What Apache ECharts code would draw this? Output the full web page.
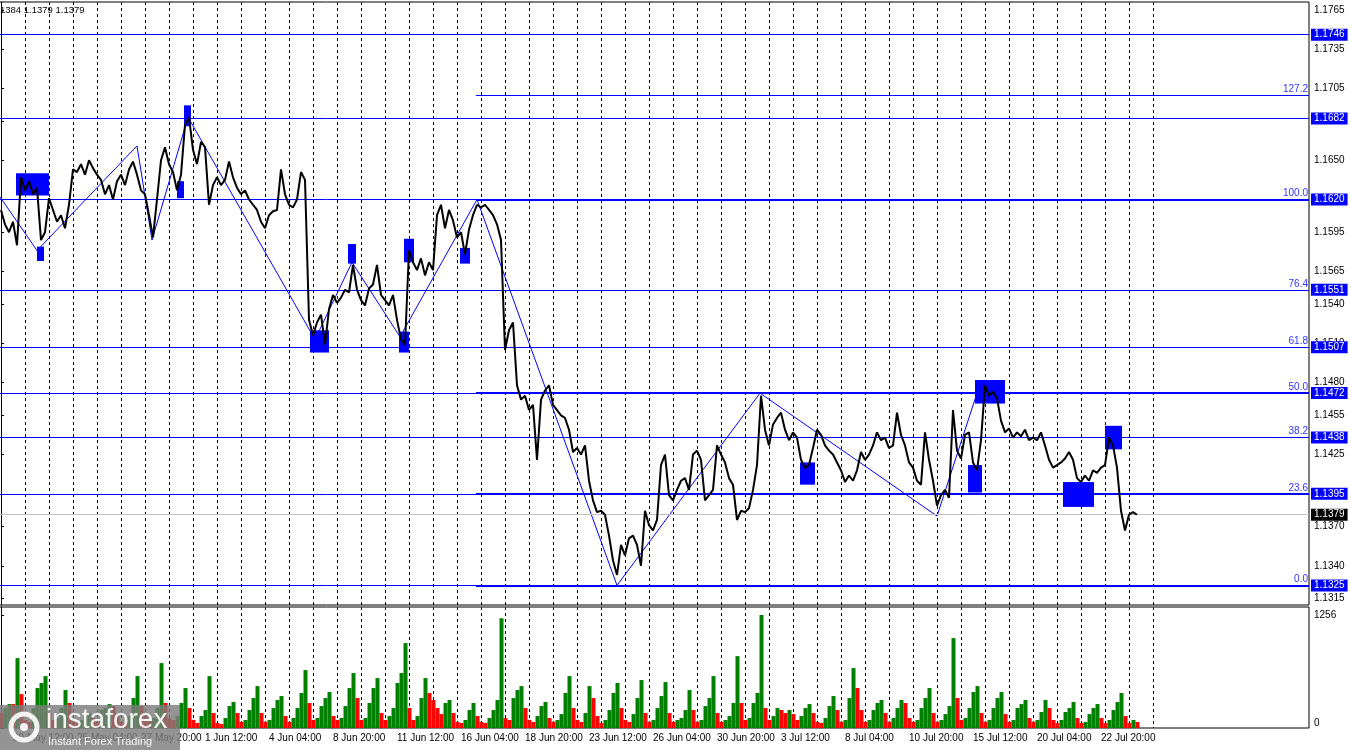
<!DOCTYPE html>
<html>
<head>
<meta charset="utf-8">
<script src="https://cdn.jsdelivr.net/npm/echarts@6/dist/echarts.min.js"></script>
<style>
html,body{margin:0;padding:0;background:#fff;}
#c{width:1350px;height:750px;}
</style>
</head>
<body>
<div id="c"></div>
<script>
// ---- data (H1 chart, hours counted from 20 May 00:00, weekends removed) ----
const sampleStepHours = 4;
const prices = [
1.1612,1.1601,1.1595,1.1603,1.1585,1.1637,1.1627,1.1634,1.1624,1.1629,
1.1589,1.1595,1.1621,1.1612,1.1603,1.1608,1.1598,1.1616,1.1643,1.1641,
1.1647,1.1639,1.1650,1.1644,1.1639,1.1635,1.1624,1.1631,1.1620,1.1634,
1.1639,1.1631,1.1643,1.1649,1.1639,1.1627,1.1624,1.1608,1.1591,1.1620,
1.1650,1.1660,1.1647,1.1641,1.1627,1.1639,1.1677,1.1683,1.1658,1.1647,
1.1664,1.1660,1.1616,1.1631,1.1637,1.1631,1.1635,1.1649,1.1637,1.1629,
1.1624,1.1627,1.1620,1.1616,1.1612,1.1603,1.1598,1.1608,1.1611,1.1612,
1.1643,1.1624,1.1616,1.1614,1.1620,1.1641,1.1635,1.1528,1.1516,1.1526,
1.1532,1.1509,1.1536,1.1547,1.1541,1.1545,1.1551,1.1549,1.1570,1.1551,
1.1543,1.1539,1.1552,1.1555,1.1570,1.1547,1.1543,1.1539,1.1547,1.1528,
1.1513,1.1509,1.1581,1.1572,1.1566,1.1575,1.1562,1.1572,1.1566,1.1608,
1.1616,1.1598,1.1612,1.1604,1.1591,1.1595,1.1578,1.1597,1.1608,1.1616,
1.1614,1.1616,1.1612,1.1608,1.1601,1.1589,1.1505,1.1520,1.1526,1.1478,
1.1467,1.1470,1.1459,1.1463,1.1421,1.1467,1.1474,1.1478,1.1463,1.1459,
1.1455,1.1453,1.1444,1.1427,1.1430,1.1425,1.1432,1.1405,1.1390,1.1381,
1.1382,1.1379,1.1363,1.1344,1.1333,1.1356,1.1348,1.1361,1.1363,1.1356,
1.1340,1.1382,1.1371,1.1367,1.1375,1.1417,1.1425,1.1394,1.1390,1.1398,
1.1405,1.1407,1.1398,1.1425,1.1428,1.1421,1.1390,1.1394,1.1398,1.1432,
1.1425,1.1419,1.1407,1.1402,1.1375,1.1382,1.1381,1.1384,1.1398,1.1417,
1.1470,1.1444,1.1432,1.1448,1.1453,1.1457,1.1444,1.1436,1.1442,1.1438,
1.1421,1.1415,1.1417,1.1430,1.1444,1.1440,1.1432,1.1428,1.1425,1.1419,
1.1413,1.1404,1.1409,1.1405,1.1413,1.1427,1.1421,1.1425,1.1432,1.1442,
1.1436,1.1438,1.1430,1.1432,1.1457,1.1440,1.1432,1.1419,1.1415,1.1405,
1.1402,1.1442,1.1421,1.1405,1.1386,1.1394,1.1398,1.1392,1.1459,1.1428,
1.1422,1.1440,1.1442,1.1419,1.1413,1.1436,1.1478,1.1470,1.1473,1.1468,
1.1451,1.1442,1.1445,1.1438,1.1442,1.1439,1.1444,1.1436,1.1438,1.1436,
1.1442,1.1432,1.1421,1.1415,1.1417,1.1419,1.1422,1.1427,1.1421,1.1407,
1.1404,1.1409,1.1405,1.1413,1.1411,1.1415,1.1417,1.1438,1.1432,1.1415,
1.1382,1.1367,1.1379,1.1381,1.1379
];
const volumes = [
167,222,266,266,777,377,89,67,222,444,
500,577,167,89,111,222,422,278,89,56,
89,133,167,111,67,200,222,266,244,133,
67,56,133,333,577,244,133,89,111,222,
722,278,111,89,133,278,444,222,89,56,
133,200,577,167,56,44,111,244,289,167,
67,89,200,333,466,167,67,89,222,311,
355,133,67,111,222,389,644,278,89,111,
244,333,400,133,89,111,244,444,611,333,
89,111,278,444,555,167,89,133,222,500,
611,944,222,89,133,333,555,389,311,222,
155,278,311,167,67,56,89,200,278,133,
67,56,111,200,311,1220,111,89,333,422,
466,222,89,67,133,244,289,111,67,89,
155,389,577,222,89,67,167,466,333,133,
56,89,200,389,500,222,89,67,155,333,
533,167,67,89,222,355,511,167,67,89,
111,200,422,200,67,89,244,333,577,167,
67,89,133,278,799,278,89,111,278,389,
1256,222,89,133,222,200,167,200,155,89,
133,222,266,167,67,56,111,244,355,200,
67,89,333,666,444,200,67,89,200,278,
311,167,67,111,222,311,278,111,67,89,
222,333,444,167,67,89,155,244,999,333,
89,111,222,400,466,167,67,89,222,333,
400,155,67,89,222,266,311,111,67,89,
178,311,222,89,56,89,178,222,289,111,
56,67,155,222,266,111,56,89,200,289,
389,133,56,89,67
];
const zigzagHours  = [-1, 36, 136, 151, 187, 314, 351, 399, 476, 616, 759, 936, 976];
const zigzagPrices = [1.1622,1.1581,1.1661,1.1589,1.1683,1.1513,1.1572,1.1515,1.1620,1.1325,1.1472,1.1378,1.1472];
const levelPrices = [1.1746,1.1682,1.1620,1.1551,1.1507,1.1472,1.1438,1.1395,1.1325];
const fiboRatios = ['127.2','100.0','76.4','61.8','50.0','38.2','23.6','0.0'];
const fiboPrices = [1.1700,1.1620,1.1551,1.1507,1.1472,1.1438,1.1395,1.1325];
const fiboStartHour = 475;
const lastPrice = 1.1379;
// [startHour, endHour, highPrice, lowPrice]
const markerBoxes = [
[15,48,1.1640,1.1623],[36,43,1.1584,1.1573],[176,183,1.1634,1.1621],[183,190,1.1692,1.1676],
[309,328,1.1520,1.1503],[347,355,1.1586,1.1571],[398,408,1.1519,1.1503],[403,413,1.1590,1.1572],
[459,469,1.1583,1.1571],[799,814,1.1419,1.1402],[967,981,1.1417,1.1396],[974,1004,1.1482,1.1464],
[1062,1093,1.1404,1.1385],[1104,1121,1.1447,1.1429]
];
const priceTicks = [1.1765,1.1735,1.1705,1.1680,1.1650,1.1620,1.1595,1.1565,1.1540,1.1510,1.1480,1.1455,1.1425,1.1395,1.1370,1.1340,1.1315];
const volumeTicks = [0,1256];
const timeLabelHours = [12,76,140,204,268,332,396,460,524,588,652,716,780,844,908,972,1036,1100];
const timeLabels = ['20 May 12:00','25 May 04:00','27 May 20:00','1 Jun 12:00','4 Jun 04:00','8 Jun 20:00','11 Jun 12:00','16 Jun 04:00','18 Jun 20:00','23 Jun 12:00','26 Jun 04:00','30 Jun 20:00','3 Jul 12:00','8 Jul 04:00','10 Jul 20:00','15 Jul 12:00','20 Jul 04:00','22 Jul 20:00'];
const headerText = '1384 1.1379 1.1379';

// ---- chart ----
const FONT = 'Liberation Sans';
const BLUE = '#0000ff';
const X_MIN = -24, X_MAX = 1308;
const dayLines = [];
for (let h = 0; h <= 1152; h += 24) dayLines.push(h);
const dashed = {show:true, lineStyle:{color:'#000', width:1, type:[3,3]}};
const thickFibo = ['100.0','50.0','23.6','0.0'];

const boxLabel = (txt, bg) => ({show:true, position:'end', distance:2, formatter: txt, color:'#fff',
  backgroundColor: bg, padding:[1,3,0,3], fontSize:10, fontFamily:FONT, lineHeight:11});

const levelLines = levelPrices.map(p => [
  {coord:[X_MIN, p], lineStyle:{color: BLUE, width: 1, type: 'solid'}, label: boxLabel(p.toFixed(4), BLUE)},
  {coord:[X_MAX, p]}
]);
levelLines.push([
  {coord:[X_MIN, lastPrice], lineStyle:{color:'#c0c0c0', width:1, type:'solid'}, label: boxLabel(lastPrice.toFixed(4), '#000')},
  {coord:[X_MAX, lastPrice]}
]);
const fiboLines = fiboPrices.map((p, k) => [
  {coord:[fiboStartHour, p],
   lineStyle:{color:BLUE, width: thickFibo.includes(fiboRatios[k]) ? 2 : 1, type:'solid'},
   label:{show:true, position:'insideEndTop', formatter: fiboRatios[k], color:'#3434ff', fontSize:10, fontFamily:FONT, distance:1}},
  {coord:[X_MAX, p]}
]);

const volumeData = volumes.map((v, i) => ({
  value: [i * sampleStepHours + 0.5, v],
  itemStyle: {color: (i > 0 && v > volumes[i-1]) ? '#008000' : '#ff0000'}
}));

const chart = echarts.init(document.getElementById('c'));
chart.setOption({
  animation: false,
  backgroundColor: '#fff',
  textStyle: {fontFamily: FONT},
  grid: [
    {left:-23, right:41, top:2, height:603, show:true, borderColor:'#000', borderWidth:1, outerBoundsMode:'none', containLabel:false},
    {left:-23, right:41, top:607, height:121, show:true, borderColor:'#000', borderWidth:1, outerBoundsMode:'none', containLabel:false}
  ],
  xAxis: [
    {type:'value', gridIndex:0, min:X_MIN, max:X_MAX,
     axisLine:{show:false}, axisTick:{show:false, customValues:dayLines},
     axisLabel:{show:false}, splitLine:dashed},
    {type:'value', gridIndex:1, min:X_MIN, max:X_MAX,
     axisLine:{show:false}, axisTick:{show:false, customValues:dayLines},
     axisLabel:{show:true, customValues:timeLabelHours,
       formatter: v => timeLabels[timeLabelHours.indexOf(v)] || '',
       align:'left', color:'#000', fontSize:10, margin:5, fontFamily:FONT},
     splitLine:dashed}
  ],
  yAxis: [
    {type:'value', gridIndex:0, position:'right', min:1.1310, max:1.1771,
     axisLine:{show:true, lineStyle:{color:'#000'}},
     axisTick:{show:true, length:3, customValues:priceTicks, lineStyle:{color:'#000'}},
     axisLabel:{customValues:priceTicks, formatter: v => v.toFixed(4), color:'#000', fontSize:10, margin:5, fontFamily:FONT},
     splitLine:{show:false}},
    {type:'value', gridIndex:1, position:'right', min:0, max:1345,
     axisLine:{show:true, lineStyle:{color:'#000'}},
     axisTick:{show:true, length:3, customValues:volumeTicks, lineStyle:{color:'#000'}},
     axisLabel:{customValues:volumeTicks, formatter: v => v === 0 ? '{z|0}' : String(v),
       rich:{z:{padding:[0,0,10,0], fontSize:10, color:'#000', fontFamily:FONT}},
       color:'#000', fontSize:10, margin:5, fontFamily:FONT},
     splitLine:{show:false}}
  ],
  series: [
    {
      type:'line', name:'levels', xAxisIndex:0, yAxisIndex:0, z:1, silent:true, data:[],
      markLine:{symbol:'none', silent:true, animation:false, data: levelLines}
    },
    {
      type:'line', name:'fibo', xAxisIndex:0, yAxisIndex:0, z:1, silent:true, data:[],
      markLine:{symbol:'none', silent:true, animation:false, data: fiboLines}
    },
    {
      type:'line', name:'zigzag', xAxisIndex:0, yAxisIndex:0, z:3, silent:true,
      data: zigzagHours.map((h, i) => [h, zigzagPrices[i]]),
      symbol:'none', lineStyle:{color:BLUE, width:1},
      markArea:{silent:true, itemStyle:{color:BLUE, opacity:1},
        data: markerBoxes.map(b => [{coord:[b[0], b[2]]}, {coord:[b[1], b[3]]}])}
    },
    {
      type:'line', name:'price', xAxisIndex:0, yAxisIndex:0, z:5, silent:true,
      data: prices.map((p, i) => [i * sampleStepHours, p]),
      symbol:'none', lineStyle:{color:'#000', width:2}
    },
    {
      type:'bar', name:'volume', xAxisIndex:1, yAxisIndex:1, silent:true,
      barWidth:4, data: volumeData
    }
  ],
  graphic: [
    {type:'text', x:0, y:10, z:100,
     style:{text:headerText, align:'left', verticalAlign:'middle', textAlign:'left', textVerticalAlign:'middle', font:'9.5px "Liberation Sans"', fill:'#000'}},
    {type:'rect', z:100, shape:{x:0, y:705, width:180, height:45}, style:{fill:'rgba(125,125,125,0.82)'}},
    {type:'circle', z:101, shape:{cx:24, cy:727, r:13}, style:{fill:'none', stroke:'rgba(255,255,255,0.9)', lineWidth:5}},
    {type:'circle', z:101, shape:{cx:24, cy:727, r:4}, style:{fill:'rgba(255,255,255,0.9)'}},
    {type:'text', x:46, y:720, z:101,
     style:{text:'instaforex', verticalAlign:'middle', textVerticalAlign:'middle', font:'28px "Liberation Sans"', fill:'rgba(255,255,255,0.92)'}},
    {type:'text', x:48, y:742, z:101,
     style:{text:'Instant Forex Trading', verticalAlign:'middle', textVerticalAlign:'middle', font:'11px "Liberation Sans"', fill:'rgba(255,255,255,0.92)'}}
  ]
});
</script>
</body>
</html>
